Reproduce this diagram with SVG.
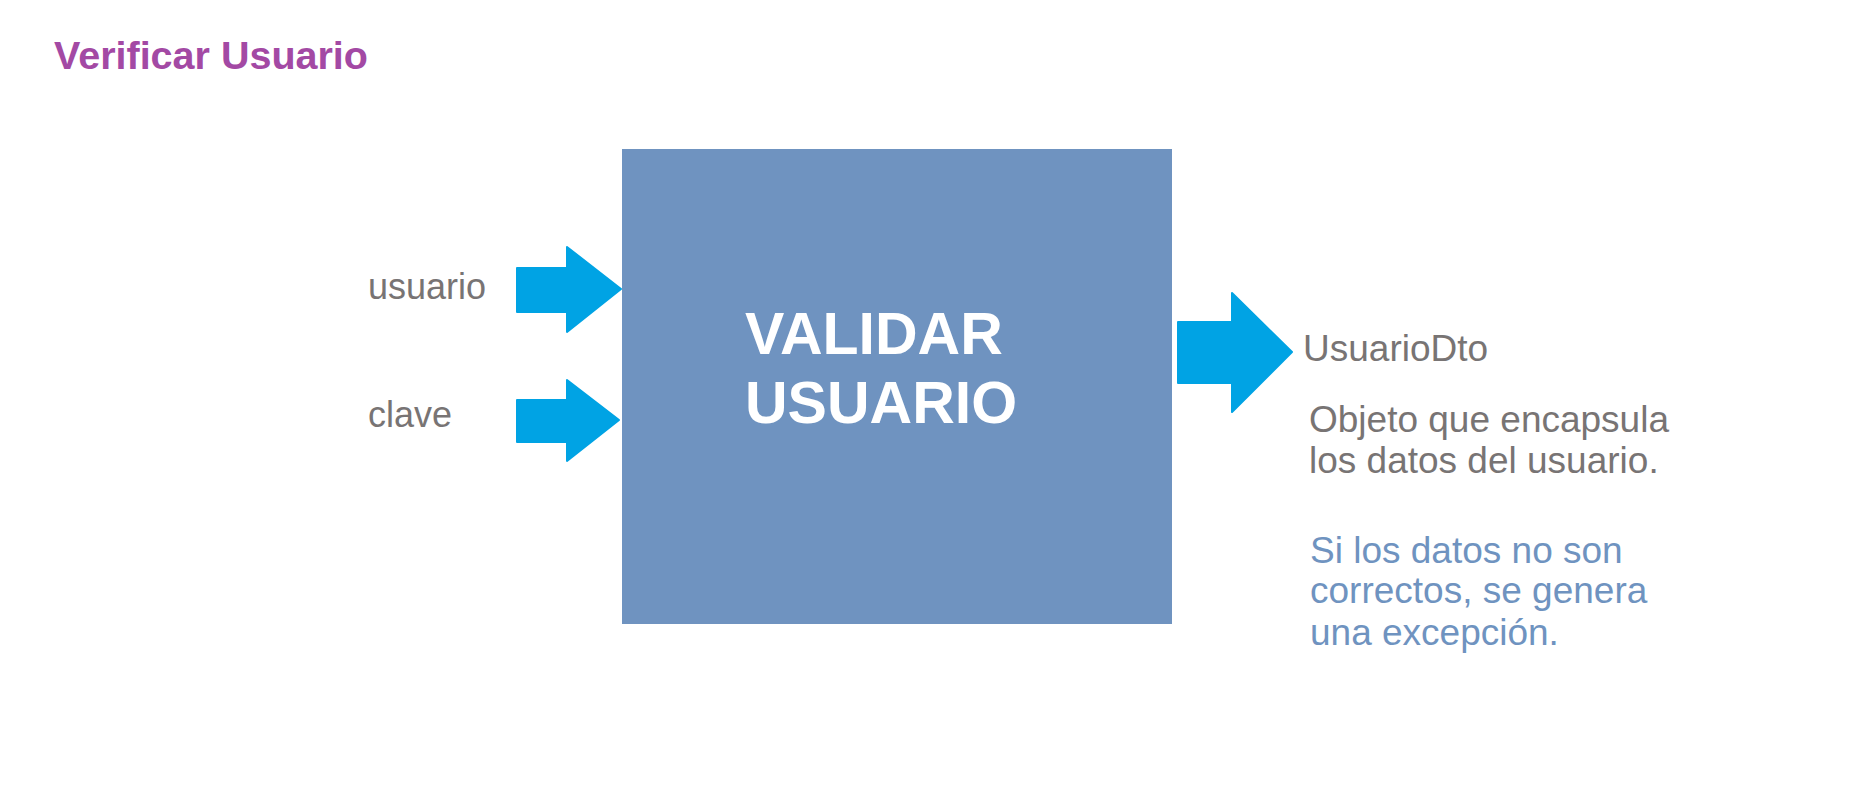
<svg xmlns="http://www.w3.org/2000/svg" width="1874" height="795" viewBox="0 0 1874 795">
<style>
.title{font-family:"Liberation Sans",Arial,sans-serif;font-weight:bold;font-size:39.5px;fill:#A349A4}
.box{fill:#6F93C0}
.boxtxt{font-family:"Liberation Sans",Arial,sans-serif;font-weight:bold;font-size:59px;fill:#FFFFFF}
.lbl{font-family:"Liberation Sans",Arial,sans-serif;font-size:37px;fill:#787474}
.in{font-size:36px}
.note{font-family:"Liberation Sans",Arial,sans-serif;font-size:37px;fill:#6F93C0}
.arrow{fill:#00A3E4;stroke:#00A3E4;stroke-width:2;stroke-linejoin:round}
</style>
<rect width="1874" height="795" fill="#FFFFFF"/>
<g id="title"><text class="title" x="54" y="69">Verificar Usuario</text></g>
<g id="validar-usuario">
<rect class="box" x="622" y="149" width="550" height="475"/>
<text class="boxtxt" x="745" y="354">VALIDAR</text>
<text class="boxtxt" x="745" y="423">USUARIO</text>
</g>
<g id="input-usuario"><text class="lbl in" x="368" y="299">usuario</text></g>
<g id="input-clave"><text class="lbl in" x="368" y="427">clave</text></g>
<g id="output-usuariodto">
<text class="lbl" x="1303" y="361">UsuarioDto</text>
<text class="lbl" x="1309" y="432">Objeto que encapsula</text>
<text class="lbl" x="1309" y="473">los datos del usuario.</text>
<text class="note" x="1310" y="563">Si los datos no son</text>
<text class="note" x="1310" y="603">correctos, se genera</text>
<text class="note" x="1310" y="645">una excepción.</text>
</g>
<g id="connectors">
<polygon class="arrow" points="517,268 567,268 567,247 621,289 567,332 567,312 517,312"/>
<polygon class="arrow" points="517,400 567,400 567,380 619,420 567,461 567,442 517,442"/>
<polygon class="arrow" points="1178,322 1232,322 1232,293 1292,352 1232,412 1232,383 1178,383"/>
</g>
</svg>
